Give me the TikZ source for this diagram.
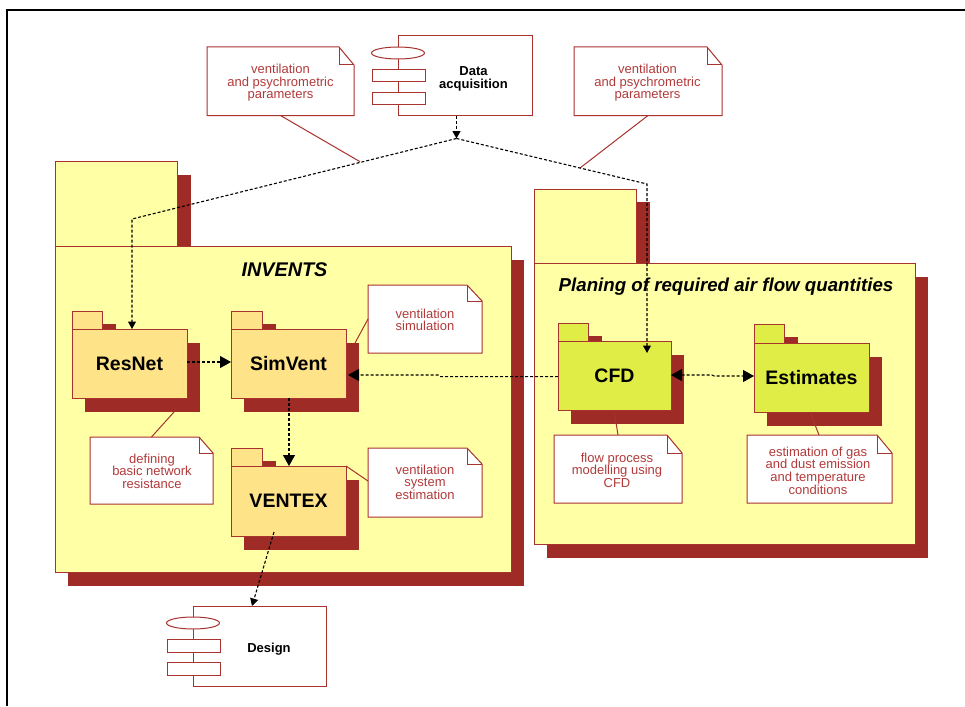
\documentclass[tikz,border=0pt]{standalone}
\usepackage{fontspec}
\setmainfont{Liberation Sans}
\usetikzlibrary{arrows.meta}
\definecolor{paley}{HTML}{FFFFA6}
\definecolor{pkgy}{HTML}{FFE388}
\definecolor{pkgg}{HTML}{E1ED47}
\definecolor{shade}{HTML}{9E2B25}
\definecolor{edge}{HTML}{A8322D}
\definecolor{notetxt}{HTML}{B23A3A}
\tikzset{
  x=1pt,y=-1pt,
  frameline/.style={draw=black,line width=2pt},
  shadow box/.style={fill=shade,draw=none},
  body box/.style={draw=edge,line width=1pt,inner sep=0pt,outer sep=0pt},
  pkglabel/.style={font=\fontsize{19.5}{21}\selectfont\bfseries,text=black},
  bigtitle/.style={font=\fontsize{18.7}{21}\selectfont\bfseries\itshape,text=black,inner sep=0pt},
  smalltitle/.style={font=\fontsize{19.8}{21}\selectfont\bfseries\itshape,text=black,inner sep=0pt},
  notefill/.style={draw=edge,line width=1pt,fill=white},
  anchorbox/.style={inner sep=0pt,outer sep=0pt},
  notetext/.style={font=\fontsize{13}{12.6}\selectfont,text=notetxt,align=center,inner sep=0pt},
  complabel/.style={font=\fontsize{13}{13}\selectfont\bfseries,text=black,align=center,inner sep=0pt},
  notelink/.style={draw=edge,line width=1pt},
  dep/.style={draw=black,line width=1.1pt,dash pattern=on 3pt off 2pt},
  bigtip/.style={-{Triangle[length=11pt,width=12pt]}},
  smalltip/.style={-{Triangle[length=7.5pt,width=8pt]}},
  bothtip/.style={{Triangle[length=11pt,width=12pt]}-{Triangle[length=11pt,width=12pt]}},
}
% [fill]{name}{x1}{x2}{tabtop}{bodytop}{bottom}{tabright}{label}
\newcommand{\pkgshape}[9][pkgy]{%
  \fill[shadow box] (#8,#5+13) rectangle (#8+14,#6);
  \fill[shadow box] (#3+13,#6+14) rectangle (#4+13,#7+14);
  \draw[body box,fill=#1] (#3,#5) rectangle (#8,#6);
  \node[body box,fill=#1,pkglabel,minimum width={(#4-#3)*1pt},minimum height={(#7-#6)*1pt}] (#2) at ({(#3+#4)/2},{(#6+#7)/2}) {#9};
}
% {name}{x1}{x2}{y1}{y2}{foldx}{foldy}
\newcommand{\noteshape}[7]{%
  \draw[notefill] (#2,#4) -- (#6,#4) -- (#3,#7) -- (#3,#5) -- (#2,#5) -- cycle;
  \draw[draw=edge,line width=1pt] (#6,#4) -- (#6,#7) -- (#3,#7);
  \node[anchorbox,minimum width={(#3-#2)*1pt},minimum height={(#5-#4)*1pt}] (#1) at ({(#2+#3)/2},{(#4+#5)/2}) {};
}
% {name}{x1}{x2}{y1}{y2}{textx}{text}
\newcommand{\compshape}[7]{%
  \node[body box,fill=white,minimum width={(#3-#2)*1pt},minimum height={(#5-#4)*1pt}] (#1) at ({(#2+#3)/2},{(#4+#5)/2}) {};
  \draw[notefill] (#2,#4+17) ellipse [x radius=26.5,y radius=6];
  \draw[notefill] (#2-26,#4+33.5) rectangle (#2+27,#4+46);
  \draw[notefill] (#2-26,#4+56.5) rectangle (#2+27,#4+69);
  \node[complabel] (#1text) at (#6,{(#4+#5)/2+3}) {#7};
}
\begin{document}
\begin{tikzpicture}
\useasboundingbox (0,0) rectangle (965,706);
\fill[white] (0,0) rectangle (965,706);
\draw[frameline] (965,10) -- (7,10) -- (7,706);

% large packages
\pkgshape[paley]{invents}{55}{511}{161.5}{246}{572}{177}{}
\pkgshape[paley]{planing}{534}{915}{189}{263}{544}{636}{}
\node[smalltitle] (inventstitle) at (284.5,270) {INVENTS};
\node[bigtitle] (planingtitle) at (726,287) {Planing of required air flow quantities};

% inner packages
\pkgshape{resnet}{72}{187}{311}{329}{398}{102}{ResNet}
\pkgshape{simvent}{231}{346}{311}{329}{398}{262}{SimVent}
\pkgshape{ventex}{231}{346}{448}{466}{536}{262}{VENTEX}
\pkgshape[pkgg]{cfd}{558}{671}{323}{341}{410}{588}{CFD}
\pkgshape[pkgg]{estimates}{754}{869}{324}{343}{412}{784}{Estimates}

% components
\compshape{data}{398}{532}{36}{115.5}{473.5}{Data\\acquisition}
\compshape{design}{193}{326}{606}{686}{269}{Design}

% notes
\noteshape{noteL}{207}{354}{47}{115.5}{339}{65}
\noteshape{noteR}{574}{722}{47}{115.5}{707}{65}
\noteshape{noteRes}{90}{213}{437}{504}{199}{453}
\noteshape{noteSim}{368}{482}{285}{353}{467}{301}
\noteshape{noteVen}{368}{482}{448}{517}{467}{464}
\noteshape{noteCfd}{554}{682}{435}{503}{667}{453}
\noteshape{noteEst}{747}{892}{435}{503}{877}{453}

\node[notetext] (tL) at (280.5,83) {ventilation\\and psychrometric\\parameters};
\node[notetext] (tR) at (647.5,83) {ventilation\\and psychrometric\\parameters};
\node[notetext] (tRes) at (152,471) {defining\\basic network\\resistance};
\node[notetext] (tSim) at (425,320) {ventilation\\simulation};
\node[notetext] (tVen) at (425,482) {ventilation\\system\\estimation};
\node[notetext] (tCfd) at (617,470) {flow process\\modelling using\\CFD};
\node[notetext] (tEst) at (818,470.5) {estimation of gas\\and dust emission\\and temperature\\conditions};

% connector points
\coordinate (junc) at (456.5,138.5);
\coordinate (bendL) at (132,219);
\coordinate (bendR) at (647,184);
\coordinate (cfdtip) at (647,353);
\coordinate (linkL) at (360,161.7);
\coordinate (linkR) at (580,168);
\coordinate (kinkA) at (440,376.6);
\coordinate (kinkB) at (438,375);
\coordinate (kinkC) at (712,375);
\coordinate (kinkD) at (714,376);

% note links
\draw[notelink] (noteL.south) -- (linkL);
\draw[notelink] (noteR.south) -- (linkR);
\draw[notelink] (174,412) -- (noteRes.north);
\draw[notelink] (noteSim.west |- 0,319) -- (355,343);
\draw[notelink] (ventex.north east) -- (noteVen.west |- 0,481);
\draw[notelink] (614,410) -- (618,435);
\draw[notelink] (810,412) -- (819,435);

% dependencies
\draw[dep,smalltip] (data.south -| junc) -- (junc);
\draw[dep,smalltip] (junc) -- (bendL) -- (bendL |- resnet.north);
\draw[dep,smalltip] (junc) -- (bendR) -- (cfdtip);
\draw[dep,bigtip] (resnet.east |- 0,362) -- (simvent.west |- 0,362);
\draw[dep,bigtip] (simvent.south -| 289,0) -- (ventex.north -| 289,0);
\draw[dep,bigtip] (cfd.west |- kinkA) -- (kinkA) -- (kinkB) -- (348,375);
\draw[dep,bothtip] (cfd.east |- kinkC) -- (kinkC) -- (kinkD) -- (estimates.west |- kinkD);
\draw[dep,smalltip] (274,532) -- (design.north -| 252,0);
\end{tikzpicture}
\end{document}
